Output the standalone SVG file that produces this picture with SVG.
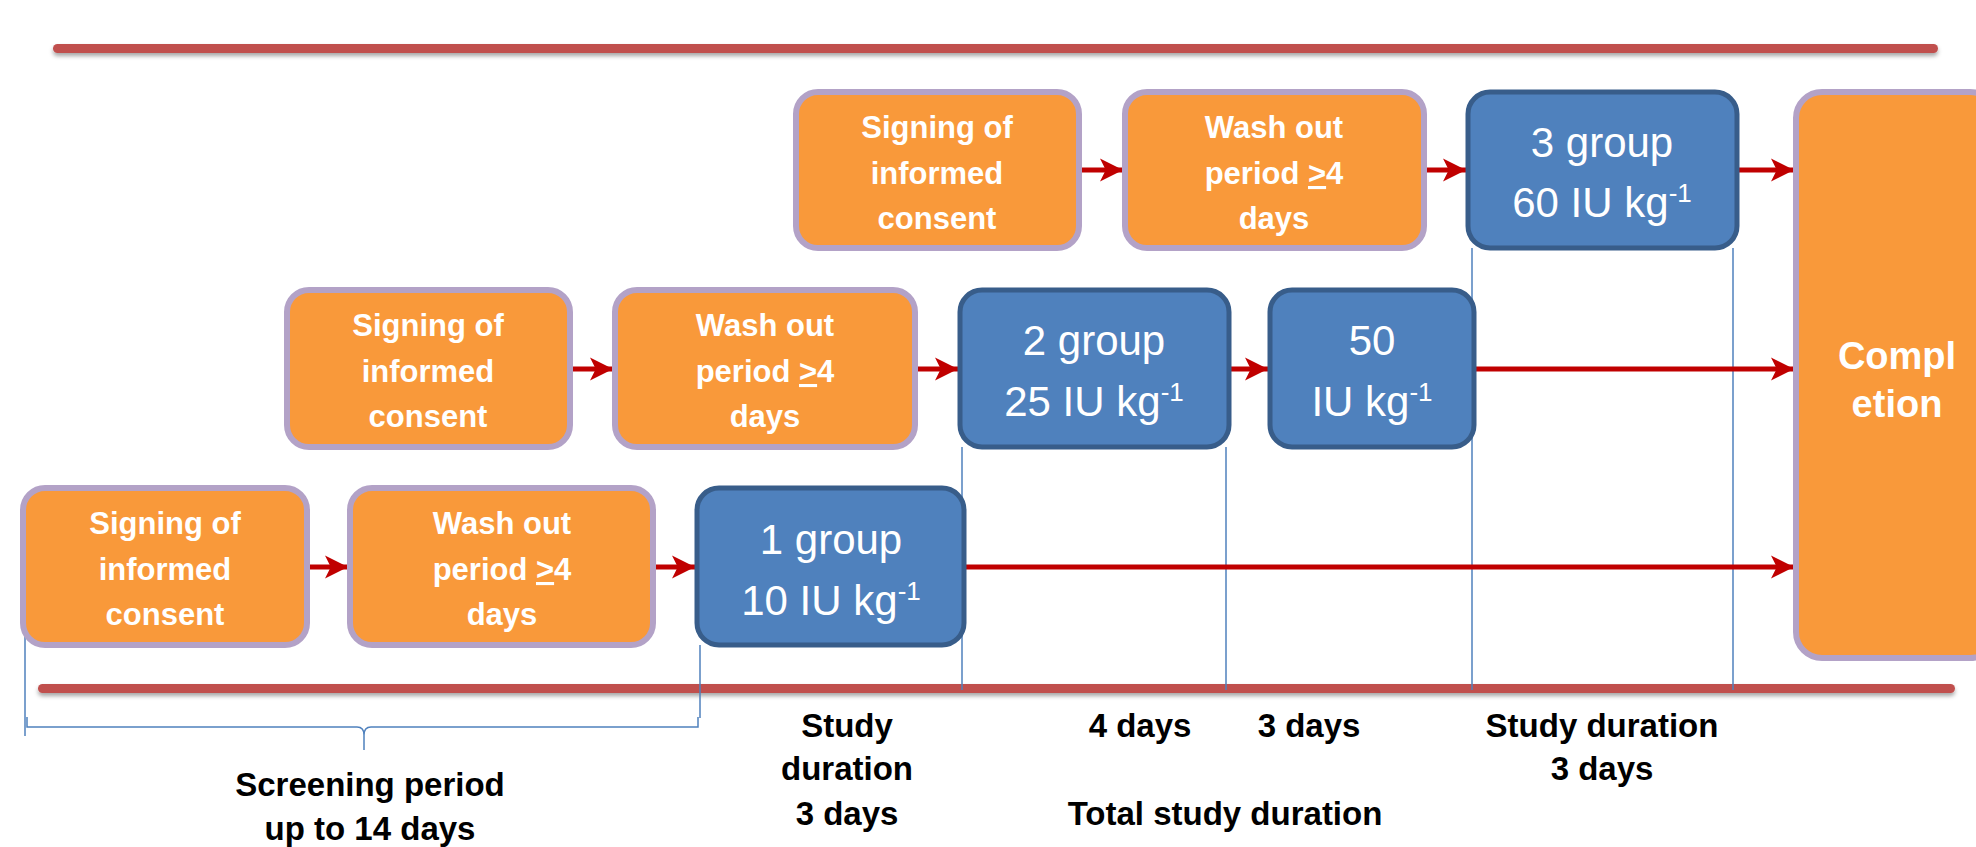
<svg xmlns="http://www.w3.org/2000/svg" width="1976" height="847" viewBox="0 0 1976 847">
<defs>
<style>
.org{fill:#F9993A;stroke:#B3A2C7;stroke-width:6}
.blu{fill:#4F81BD;stroke:#385D8A;stroke-width:5}
.ot{font-family:"Liberation Sans",Arial,sans-serif;font-weight:bold;font-size:31px;fill:#fff;text-anchor:middle}
.bt{font-family:"Liberation Sans",Arial,sans-serif;font-size:42px;fill:#fff;text-anchor:middle}
.ct{font-family:"Liberation Sans",Arial,sans-serif;font-weight:bold;font-size:38px;fill:#fff;text-anchor:middle}
.lt{font-family:"Liberation Sans",Arial,sans-serif;font-weight:bold;font-size:33px;fill:#000;text-anchor:middle}
.arr{stroke:#C00000;stroke-width:5;fill:none;marker-end:url(#ah)}
.vl{stroke:#4F81BD;stroke-width:1.5;fill:none}
.rl{fill:#C0504D;filter:url(#sh)}
.sup{font-size:26px}
</style>
<marker id="ah" viewBox="0 0 10 10" refX="10" refY="5" markerWidth="4.6" markerHeight="4.8" orient="auto" markerUnits="strokeWidth">
<path d="M0,0 L10,5 L0,10 L2.5,5 Z" fill="#C00000"/>
</marker>
<filter id="sh" filterUnits="userSpaceOnUse" x="0" y="0" width="1976" height="847">
<feDropShadow dx="0" dy="3" stdDeviation="2" flood-color="#000" flood-opacity="0.35"/>
</filter>
</defs>
<rect class="rl" x="53" y="44" width="1885" height="9" rx="4.5"/>
<rect class="rl" x="38" y="684" width="1917" height="9" rx="4.5"/>
<g id="guides">
<line class="vl" x1="962" y1="447" x2="962" y2="690"/>
<line class="vl" x1="1226" y1="447" x2="1226" y2="690"/>
<line class="vl" x1="1472" y1="248" x2="1472" y2="690"/>
<line class="vl" x1="1733" y1="248" x2="1733" y2="690"/>
<line class="vl" x1="700" y1="645" x2="700" y2="718"/>
<line class="vl" x1="25" y1="548" x2="25" y2="736"/>
<path class="vl" d="M27,717 L27,727 L357,727 Q364,727 364,735 L364,750 M364,735 Q364,727 371,727 L698,727 L698,717" stroke-width="2"/>
</g>
<g id="connectors">
<line class="arr" x1="1081" y1="170" x2="1123" y2="170"/>
<line class="arr" x1="1426" y1="170" x2="1466" y2="170"/>
<line class="arr" x1="1739" y1="170" x2="1794" y2="170"/>
<line class="arr" x1="572" y1="369" x2="613" y2="369"/>
<line class="arr" x1="917" y1="369" x2="958" y2="369"/>
<line class="arr" x1="1231" y1="369" x2="1268" y2="369"/>
<line class="arr" x1="1476" y1="369" x2="1794" y2="369"/>
<line class="arr" x1="309" y1="567" x2="348" y2="567"/>
<line class="arr" x1="655" y1="567" x2="695" y2="567"/>
<line class="arr" x1="966" y1="567" x2="1794" y2="567"/>
</g>
<g id="sign3">
<rect class="org" x="796" y="92" width="283" height="156" rx="22"/>
<text class="ot"><tspan x="937" y="138">Signing of</tspan><tspan x="937" y="184">informed</tspan><tspan x="937" y="229">consent</tspan></text>
</g>
<g id="wash3">
<rect class="org" x="1125" y="92" width="299" height="156" rx="22"/>
<text class="ot"><tspan x="1274" y="138">Wash out</tspan><tspan x="1274" y="184">period <tspan text-decoration="underline">&gt;</tspan>4</tspan><tspan x="1274" y="229">days</tspan></text>
</g>
<g id="group3">
<rect class="blu" x="1468" y="92" width="269" height="156" rx="22"/>
<text class="bt"><tspan x="1602" y="157">3 group</tspan><tspan x="1602" y="217">60 IU kg<tspan class="sup" dy="-15">-1</tspan></tspan></text>
</g>
<g id="completion">
<rect class="org" x="1796" y="92" width="200" height="566" rx="26"/>
<text class="ct"><tspan x="1897" y="369">Compl</tspan><tspan x="1897" y="417">etion</tspan></text>
</g>
<g id="sign2">
<rect class="org" x="287" y="290" width="283" height="157" rx="22"/>
<text class="ot"><tspan x="428" y="336">Signing of</tspan><tspan x="428" y="382">informed</tspan><tspan x="428" y="427">consent</tspan></text>
</g>
<g id="wash2">
<rect class="org" x="615" y="290" width="300" height="157" rx="22"/>
<text class="ot"><tspan x="765" y="336">Wash out</tspan><tspan x="765" y="382">period <tspan text-decoration="underline">&gt;</tspan>4</tspan><tspan x="765" y="427">days</tspan></text>
</g>
<g id="group2">
<rect class="blu" x="960" y="290" width="269" height="157" rx="22"/>
<text class="bt"><tspan x="1094" y="355">2 group</tspan><tspan x="1094" y="416">25 IU kg<tspan class="sup" dy="-15">-1</tspan></tspan></text>
</g>
<g id="dose50">
<rect class="blu" x="1270" y="290" width="204" height="157" rx="22"/>
<text class="bt"><tspan x="1372" y="355">50</tspan><tspan x="1372" y="416">IU kg<tspan class="sup" dy="-15">-1</tspan></tspan></text>
</g>
<g id="sign1">
<rect class="org" x="23" y="488" width="284" height="157" rx="22"/>
<text class="ot"><tspan x="165" y="534">Signing of</tspan><tspan x="165" y="580">informed</tspan><tspan x="165" y="625">consent</tspan></text>
</g>
<g id="wash1">
<rect class="org" x="350" y="488" width="303" height="157" rx="22"/>
<text class="ot"><tspan x="502" y="534">Wash out</tspan><tspan x="502" y="580">period <tspan text-decoration="underline">&gt;</tspan>4</tspan><tspan x="502" y="625">days</tspan></text>
</g>
<g id="group1">
<rect class="blu" x="697" y="488" width="267" height="157" rx="22"/>
<text class="bt"><tspan x="831" y="554">1 group</tspan><tspan x="831" y="615">10 IU kg<tspan class="sup" dy="-15">-1</tspan></tspan></text>
</g>
<g id="labels">
<text class="lt"><tspan x="370" y="796">Screening period</tspan><tspan x="370" y="840">up to 14 days</tspan></text>
<text class="lt"><tspan x="847" y="737">Study</tspan><tspan x="847" y="780">duration</tspan><tspan x="847" y="825">3 days</tspan></text>
<text class="lt" x="1140" y="737">4 days</text>
<text class="lt" x="1309" y="737">3 days</text>
<text class="lt" x="1225" y="825">Total study duration</text>
<text class="lt"><tspan x="1602" y="737">Study duration</tspan><tspan x="1602" y="780">3 days</tspan></text>
</g>
</svg>
